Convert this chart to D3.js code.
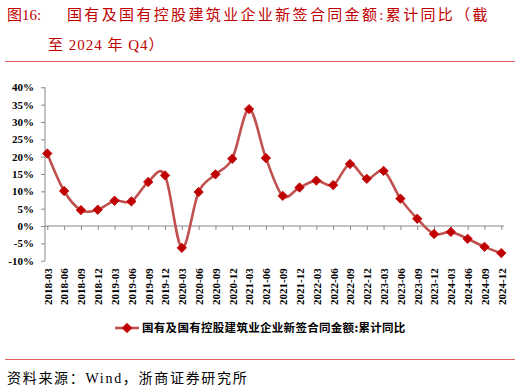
<!DOCTYPE html>
<html>
<head>
<meta charset="utf-8">
<script src="https://cdn.jsdelivr.net/npm/d3@7"></script>
<style>
  html, body { margin: 0; padding: 0; background: #fff; }
  svg { display: block; }
</style>
</head>
<body>
<svg id="chart" width="520" height="391"></svg>
<script>
const categories = ["2018-03","2018-06","2018-09","2018-12","2019-03","2019-06","2019-09","2019-12",
  "2020-03","2020-06","2020-09","2020-12","2021-03","2021-06","2021-09","2021-12",
  "2022-03","2022-06","2022-09","2022-12","2023-03","2023-06","2023-09","2023-12",
  "2024-03","2024-06","2024-09","2024-12"];
const values = [20.9, 10.1, 4.6, 4.7, 7.3, 7.1, 12.7, 14.6,
  -6.3, 9.8, 14.9, 19.4, 33.7, 19.6, 8.7, 11.1,
  13.1, 11.8, 17.9, 13.6, 15.9, 7.9, 2.1, -2.3,
  -1.7, -3.7, -6.0, -7.8];
const yTicks = [-10, -5, 0, 5, 10, 15, 20, 25, 30, 35, 40];
const seriesName = "国有及国有控股建筑业企业新签合同金额:累计同比";
const titleLabel = "图16:";
const titleLine1 = "国有及国有控股建筑业企业新签合同金额:累计同比（截";
const titleLine2 = "至 2024 年 Q4）";
const sourceText = "资料来源：Wind，浙商证券研究所";

const svg = d3.select("#chart");
const serif = "'Liberation Serif', 'Times New Roman', 'Noto Sans CJK SC', serif";
const red = "#c00000";
const lineRed = "#c0504d";

// Title
svg.append("text").attr("x", 7).attr("y", 20).attr("fill", red)
  .style("font-family", serif).style("font-size", "15px").text(titleLabel);
svg.append("text").attr("x", 67).attr("y", 20).attr("fill", red)
  .style("font-family", serif).style("font-size", "15px").style("letter-spacing", "2.35px").text(titleLine1);
svg.append("text").attr("x", 48).attr("y", 50).attr("fill", red)
  .style("font-family", serif).style("font-size", "15px").style("letter-spacing", "1px").text(titleLine2);
svg.append("line").attr("x1", 5).attr("x2", 515).attr("y1", 61.5).attr("y2", 61.5)
  .attr("stroke", "#e06060").attr("stroke-width", 1.2);

// Scales
const x = d3.scalePoint().domain(categories).range([47.3, 501.3]);
const y = d3.scaleLinear().domain([-10, 40]).range([260.7, 87.3]);
const axisColor = "#888";

// Y axis
const yAxis = svg.append("g").attr("transform", "translate(45,0)")
  .call(d3.axisLeft(y).tickValues(yTicks).tickSize(4).tickPadding(7).tickFormat(d => d + "%"));
yAxis.selectAll("path, line").attr("stroke", axisColor);
yAxis.select(".domain").attr("d", `M0,${y(40)}V${y(-10)}`);
yAxis.selectAll("text").style("font-family", serif).style("font-size", "11px")
  .style("font-weight", "bold").attr("fill", "#000");

// X axis at zero with ticks
const xAxis = svg.append("g").attr("transform", `translate(0,${y(0)})`)
  .call(d3.axisBottom(x).tickSize(4).tickFormat(""));
xAxis.selectAll("path, line").attr("stroke", axisColor);
xAxis.select(".domain").attr("d", "M45,0H504");

// X labels at bottom
const xLab = svg.append("g").attr("transform", "translate(0,305)")
  .call(d3.axisBottom(x).tickSize(0));
xLab.select(".domain").remove();
xLab.selectAll("text")
  .attr("transform", "rotate(-90)").attr("x", 0).attr("y", 0).attr("dy", "0.35em")
  .attr("text-anchor", "start")
  .style("font-family", serif).style("font-size", "11px").style("font-weight", "bold").attr("fill", "#000");

// Line
const data = categories.map((c, i) => ({ c, v: values[i] }));
const line = d3.line().x(d => x(d.c)).y(d => y(d.v)).curve(d3.curveCardinal.tension(0));
svg.append("path").datum(data).attr("d", line).attr("fill", "none")
  .attr("stroke", lineRed).attr("stroke-width", 2.6);

const diamond = d3.symbol().type(d3.symbolSquare).size(44);
svg.append("g").selectAll("path").data(data).join("path")
  .attr("d", diamond)
  .attr("transform", d => `translate(${x(d.c)},${y(d.v)}) rotate(45)`)
  .attr("fill", red).attr("stroke", red).attr("stroke-width", 0.8);

// Legend
const lg = svg.append("g").attr("transform", "translate(0,328)");
lg.append("line").attr("x1", 115).attr("x2", 139).attr("y1", 0).attr("y2", 0)
  .attr("stroke", lineRed).attr("stroke-width", 2.6);
lg.append("path").attr("d", diamond).attr("transform", "translate(127,0) rotate(45)")
  .attr("fill", red).attr("stroke", red).attr("stroke-width", 0.8);
lg.append("text").attr("x", 142).attr("y", 4.2).attr("fill", "#000")
  .style("font-family", "'Noto Sans CJK SC', sans-serif").style("font-size", "11.5px")
  .style("font-weight", "bold").style("letter-spacing", "0.3px").text(seriesName);

// Bottom rule and source
svg.append("line").attr("x1", 5).attr("x2", 515).attr("y1", 359.5).attr("y2", 359.5)
  .attr("stroke", "#e06060").attr("stroke-width", 1.2);
svg.append("text").attr("x", 7).attr("y", 383).attr("fill", "#000")
  .style("font-family", serif).style("font-size", "14px").style("letter-spacing", "1.7px").text(sourceText);
</script>
</body>
</html>
